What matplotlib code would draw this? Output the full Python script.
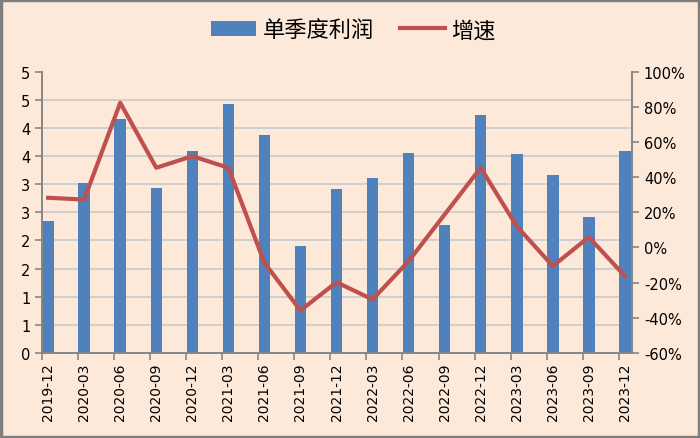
import numpy as np
import matplotlib.pyplot as plt
from matplotlib.ticker import FuncFormatter
from matplotlib.patches import Patch
from matplotlib.lines import Line2D

plt.rcParams['font.family'] = ['Noto Sans CJK SC', 'DejaVu Sans']

# 季度、单季度利润、增速
quarters = ['2019-12', '2020-03', '2020-06', '2020-09', '2020-12', '2021-03',
            '2021-06', '2021-09', '2021-12', '2022-03', '2022-06', '2022-09',
            '2022-12', '2023-03', '2023-06', '2023-09', '2023-12']
profit = [2.35, 3.02, 4.16, 2.94, 3.59, 4.43, 3.87, 1.90, 2.91,
          3.11, 3.56, 2.28, 4.24, 3.53, 3.16, 2.41, 3.59]
growth = [28.3, 27.3, 82.4, 45.4, 52.0, 45.4, -8.7, -35.9, -19.8,
          -29.6, -7.8, 18.8, 45.4, 12.1, -10.6, 5.9, -16.3]

bg = '#FDE9D9'
bar_color = '#4F81BD'
line_color = '#C0504D'
axis_color = '#868686'

fig = plt.figure(figsize=(7, 4.39), dpi=100, facecolor=bg)
ax = fig.add_axes([0.06, 0.194, 0.843, 0.64])
ax.set_facecolor(bg)
x = np.arange(len(quarters))

ax.bar(x, profit, width=0.32, color=bar_color, zorder=2)
ax.set_xlim(-0.17, len(quarters) - 1 + 0.2)
ax.set_ylim(0, 5)
ax.set_yticks(np.arange(0, 5.01, 0.5))
ax.yaxis.set_major_formatter(FuncFormatter(lambda v, p: '%d' % int(np.floor(v + 0.5))))
ax.yaxis.grid(True, color='#CFCFCF', lw=1.4, zorder=0)
ax.get_ygridlines()[-1].set_visible(False)
ax.set_axisbelow(True)

ax.set_xticks(x)
ax.set_xticklabels(quarters, rotation=90, fontsize=10, family='DejaVu Sans')
ax.tick_params(axis='x', length=0, pad=7)
ax.set_xticks(x - 0.17, minor=True)
ax.tick_params(axis='x', which='minor', length=5, color=axis_color, width=1.2)
ax.tick_params(axis='y', labelsize=10.5, length=5, color=axis_color, width=1.2,
               labelfontfamily='DejaVu Sans')

ax2 = ax.twinx()
ax2.plot(x, growth, color=line_color, lw=3, zorder=3)
ax2.set_ylim(-60, 100)
ax2.set_yticks(np.arange(-60, 101, 20))
ax2.yaxis.set_major_formatter(FuncFormatter(lambda v, p: '%d%%' % v))
ax2.tick_params(axis='y', labelsize=10.5, length=5, color=axis_color, width=1.2,
                labelfontfamily='DejaVu Sans')

for a in (ax, ax2):
    a.spines['top'].set_visible(False)
    for s in ('left', 'right', 'bottom'):
        a.spines[s].set_color(axis_color)
        a.spines[s].set_linewidth(1.2)

handles = [Patch(facecolor=bar_color), Line2D([0], [0], color=line_color, lw=3)]
fig.legend(handles, ['单季度利润', '增速'], loc='center', bbox_to_anchor=(0.505, 0.93),
           ncol=2, frameon=False, fontsize=16, handlelength=2.0, handletextpad=0.3,
           columnspacing=1.2)

# 外框
fig.patches.append(plt.Rectangle((0.002, 0.003), 0.996, 0.994, transform=fig.transFigure,
                                 fill=False, edgecolor='#7F7F7F', lw=2.5))

fig.savefig('out.png', dpi=100, facecolor=bg)
